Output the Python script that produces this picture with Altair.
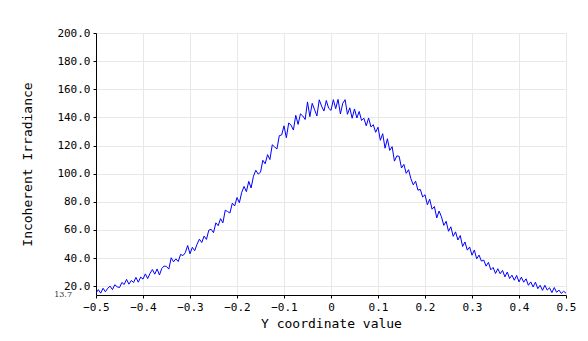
import altair as alt
import numpy as np
import pandas as pd

# Sample positions (Y coordinate) and incoherent irradiance
x_start, x_end, n_points = -0.5, 0.5, 201
irradiance = [
    15, 17.5, 15, 18.5, 16, 18.5, 20, 17.5, 21, 19.5,
    19, 22.6, 21.2, 24.8, 21.4, 24, 22.6, 26.2, 22.8, 26.4,
    25, 28.7, 25.4, 29.1, 31.8, 28.5, 32.2, 27.9, 32.6, 34.3,
    34, 32.1, 40.2, 37.3, 39.4, 37.5, 42.6, 41.7, 43.8, 48.9,
    43, 47.6, 45.2, 49.8, 53.4, 51, 55.6, 53.2, 59.8, 60.4,
    58, 65, 63, 68, 65, 74, 73, 72, 79, 77,
    83, 79.3, 86.6, 90.9, 87.2, 94.5, 89.8, 98.1, 102.4, 99.7,
    101, 109.5, 107, 113.5, 110, 120.5, 119, 117.5, 127, 127.5,
    134, 125.5, 136, 134.5, 131, 141.5, 135, 142.5, 141, 138.5,
    151, 140.5, 150, 145.5, 141, 152.5, 148, 144.5, 152, 146.5,
    145, 152.6, 146.2, 152.8, 142.4, 150, 152.6, 142.2, 146.8, 139.4,
    146, 139.6, 144.2, 137.8, 139.4, 134, 139.6, 133.2, 134.8, 129.4,
    133, 123.7, 128.4, 118.1, 124.8, 116.5, 119.2, 108.9, 112.6, 112.3,
    104, 106.6, 100.2, 102.8, 96.4, 92, 94.6, 88.2, 88.8, 83.4,
    85, 77.9, 81.8, 74.7, 76.6, 68.5, 73.4, 69.3, 63.2, 66.1,
    59, 62.2, 55.4, 58.6, 52.8, 56, 48.2, 51.4, 45.6, 47.8,
    42, 45.7, 39.4, 42.1, 37.8, 38.5, 34.2, 36.9, 31.6, 33.3,
    29, 32.4, 28.8, 31.2, 26.6, 30, 25.4, 27.8, 24.2, 27.6,
    23, 26.4, 22.8, 25.2, 20.6, 23, 19.4, 22.8, 18.2, 20.6,
    17, 20.6, 17.2, 18.8, 15.4, 19, 15.6, 17.2, 14.8, 16.4, 15,
]
y_positions = np.round(np.linspace(x_start, x_end, n_points), 4)

x_ticks = [-0.5, -0.4, -0.3, -0.2, -0.1, 0.0, 0.1, 0.2, 0.3, 0.4, 0.5]
y_ticks = [20, 40, 60, 80, 100, 120, 140, 160, 180, 200]
y_min, y_max = 13.7, 200.0

df = pd.DataFrame({"y": y_positions, "irr": irradiance})
df_min = pd.DataFrame({"v": [y_min], "label": [f"{y_min}"]})

FONT = "DejaVu Sans Mono"

xscale = alt.Scale(domain=[x_start, x_end], nice=False, zero=False)
yscale = alt.Scale(domain=[y_min, y_max], nice=False, zero=False)

line = alt.Chart(df).mark_line(color="#0000ff", strokeWidth=1, clip=True).encode(
    x=alt.X("y:Q", scale=xscale,
            axis=alt.Axis(values=x_ticks, tickCount=len(x_ticks), title="Y coordinate value",
                          labelExpr="datum.value == 0 ? '0' : format(datum.value, '.1f')",
                          titlePadding=5)),
    y=alt.Y("irr:Q", scale=yscale,
            axis=alt.Axis(values=y_ticks, tickCount=len(y_ticks), format=".1f",
                          title="Incoherent Irradiance", titlePadding=22)),
)

min_label = alt.Chart(df_min).mark_text(
    align="right", baseline="middle", fontSize=8, font="DejaVu Serif", color="#333333"
).encode(
    y=alt.Y("v:Q", scale=yscale),
    x=alt.value(-24),
    text="label:N",
)

chart = alt.layer(line, min_label).properties(
    width=470, height=262,
    autosize=alt.AutoSizeParams(type="none"),
    padding={"left": 88, "top": 25, "right": 12, "bottom": 44},
).configure_axis(
    labelFont=FONT, titleFont=FONT, labelFontSize=11, titleFontSize=13,
    titleFontWeight="normal", labelColor="black", titleColor="black",
    domainColor="black", tickColor="black", tickSize=3, labelPadding=3,
    gridColor="#e8e8e8", gridWidth=1, labelOverlap=False, labelFlush=False,
).configure_view(stroke=None)

chart.save("out.html", embed_options={"renderer": "svg", "actions": False})
